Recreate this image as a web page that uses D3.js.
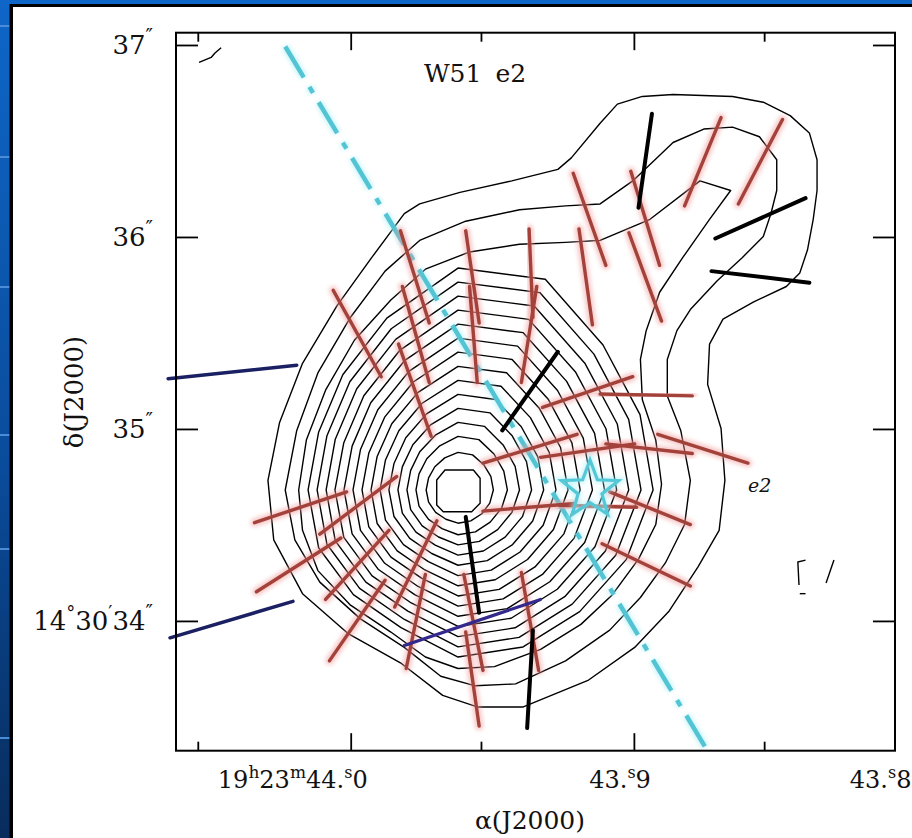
<!DOCTYPE html>
<html><head><meta charset="utf-8">
<script src="https://cdn.jsdelivr.net/npm/d3@7"></script>
<style>html,body{margin:0;padding:0;background:#fff;overflow:hidden}</style>
</head><body><svg id="c" width="912" height="838"></svg>
<script>
// ---------------- DATA (offsets in arcsec from the dust peak; +x = east) ----------------
const raRef = 43.9621;          // RA seconds of peak (19h23m)
const decRef = 34.682;          // Dec arcsec of peak (14°30')
const arcsecPerSecRA = 14.75;
const xExtent = [1.469, -2.276];
const yExtent = [2.382, -1.358];

const raMajorTicks = [44.0, 43.9, 43.808];
const raMinorTicks = [44.054, 43.954, 43.854];
const raTickLabels = [["19","h","23","m","44","s","0"], ["43","s","9"], ["43","s","8"]];
const decTicks = [37, 36, 35, 34];
const decTickLabels = ["37", "36", "35", "14°30′34"];

const contourOuter = [[0.28,1.44],[0.20,1.49],[-0.01,1.55],[-0.28,1.61],[-0.52,1.67],[-0.59,1.73],[-0.74,1.91],[-0.83,2.01],[-0.96,2.05],[-1.12,2.06],[-1.43,2.05],[-1.59,2.02],[-1.73,1.95],[-1.83,1.86],[-1.87,1.72],[-1.87,1.56],[-1.85,1.41],[-1.82,1.25],[-1.78,1.13],[-1.71,1.06],[-1.54,0.98],[-1.38,0.89],[-1.31,0.76],[-1.30,0.55],[-1.37,0.32],[-1.39,0.05],[-1.36,-0.21],[-1.25,-0.40],[-1.10,-0.63],[-0.92,-0.82],[-0.68,-0.99],[-0.34,-1.13],[-0.10,-1.13],[0.08,-1.07],[0.30,-0.90],[0.57,-0.75],[0.81,-0.54],[0.96,-0.26],[0.99,0.05],[0.93,0.35],[0.81,0.66],[0.63,0.96],[0.45,1.21]];
const contour2 = [[-0.74,1.49],[-0.91,1.61],[-1.12,1.81],[-1.28,1.88],[-1.43,1.89],[-1.57,1.84],[-1.66,1.72],[-1.66,1.56],[-1.63,1.44],[-1.59,1.32],[-1.48,1.21],[-1.35,1.09],[-1.21,0.94],[-1.14,0.83],[-1.09,0.68],[-1.09,0.49],[-1.16,0.31],[-1.21,0.05],[-1.18,-0.18],[-1.08,-0.38],[-0.95,-0.56],[-0.79,-0.73],[-0.56,-0.89],[-0.30,-1.01],[-0.09,-1.02],[0.09,-0.97],[0.28,-0.82],[0.51,-0.67],[0.72,-0.48],[0.85,-0.26],[0.90,0],[0.84,0.31],[0.73,0.61],[0.56,0.90],[0.38,1.14],[0.20,1.30],[-0.04,1.40],[-0.32,1.46],[-0.56,1.48]];
const contour3 = [[-0.74,1.30],[-1.00,1.41],[-1.26,1.61],[-1.42,1.56],[-1.31,1.41],[-1.17,1.21],[-1.05,1.03],[-0.98,0.83],[-0.95,0.68],[-0.96,0.47],[-1.03,0.26],[-1.06,0.03],[-1.03,-0.18],[-0.94,-0.36],[-0.80,-0.55],[-0.64,-0.70],[-0.43,-0.83],[-0.19,-0.92],[0,-0.93],[0.17,-0.87],[0.35,-0.74],[0.56,-0.60],[0.73,-0.42],[0.81,-0.21],[0.83,0],[0.79,0.26],[0.69,0.52],[0.54,0.78],[0.35,0.99],[0.17,1.15],[-0.06,1.24],[-0.32,1.28],[-0.56,1.29]];
// inner contours: radius (arcsec) from the peak at angles 0,22.5,...,337.5 deg (0 = west, 90 = north)
const innerContourRadii = [
 [1.016,1.026,1.068,1.188,1.156,0.969,0.849,0.786,0.781,0.786,0.771,0.776,0.870,0.885,0.896,0.948],
 [0.953,0.962,1.001,1.113,1.083,0.909,0.797,0.739,0.734,0.739,0.725,0.730,0.817,0.831,0.841,0.889],
 [0.889,0.898,0.934,1.037,1.010,0.849,0.746,0.692,0.687,0.692,0.679,0.683,0.764,0.777,0.786,0.831],
 [0.826,0.834,0.867,0.962,0.937,0.789,0.694,0.644,0.641,0.644,0.633,0.637,0.711,0.723,0.731,0.772],
 [0.763,0.770,0.800,0.887,0.864,0.729,0.643,0.597,0.594,0.597,0.586,0.590,0.658,0.669,0.676,0.714],
 [0.700,0.706,0.733,0.811,0.791,0.669,0.591,0.550,0.547,0.550,0.540,0.544,0.605,0.614,0.622,0.655],
 [0.636,0.642,0.666,0.736,0.718,0.609,0.539,0.503,0.500,0.503,0.494,0.497,0.552,0.560,0.567,0.597],
 [0.573,0.578,0.600,0.661,0.644,0.549,0.488,0.456,0.453,0.456,0.448,0.451,0.499,0.506,0.512,0.538],
 [0.510,0.514,0.533,0.585,0.571,0.489,0.436,0.409,0.406,0.409,0.402,0.404,0.446,0.452,0.457,0.480],
 [0.446,0.450,0.466,0.510,0.498,0.429,0.385,0.361,0.360,0.361,0.356,0.358,0.392,0.398,0.402,0.421],
 [0.383,0.386,0.399,0.435,0.425,0.369,0.333,0.314,0.313,0.314,0.310,0.311,0.339,0.344,0.347,0.363],
 [0.320,0.322,0.332,0.359,0.352,0.309,0.282,0.267,0.266,0.267,0.264,0.265,0.286,0.290,0.292,0.304],
 [0.257,0.258,0.265,0.284,0.279,0.249,0.230,0.220,0.219,0.220,0.217,0.218,0.233,0.236,0.237,0.246],
 [0.184,0.185,0.188,0.198,0.196,0.181,0.171,0.166,0.166,0.166,0.165,0.165,0.173,0.174,0.175,0.179]
];
const radiusAngles = [0,22.5,45,67.5,90,112.5,135,157.5,180,202.5,225,247.5,270,292.5,315,337.5];
const peakContour = [[0.111,0.052],[0.068,0.104],[-0.080,0.104],[-0.115,0.061],[-0.115,-0.069],[-0.071,-0.113],[0.077,-0.113],[0.111,-0.078]];
const fragments = [
  [[1.349,2.227],[1.286,2.253],[1.266,2.276],[1.234,2.304]],
  [[-1.81,-0.365],[-1.77,-0.375],[-1.776,-0.495]],
  [[-1.78,-0.54],[-1.81,-0.54]],
  [[-1.958,-0.365],[-1.917,-0.484]]
];

// polarization segments [x1,y1,x2,y2] (arcsec)
const redVectors = [
 [0.65,1.04,0.40,0.59],[0.29,1.06,0.15,0.56],[0.31,0.76,0.14,0.28],[0.30,1.35,0.15,0.87],
 [-0.04,1.35,-0.11,0.87],[-0.06,1.06,-0.10,0.56],[-0.37,1.36,-0.39,0.90],[-0.41,1.06,-0.33,0.56],
 [-0.63,1.36,-0.70,0.86],[-0.60,1.65,-0.77,1.17],[-0.90,1.66,-1.05,1.17],[-0.89,1.34,-1.06,0.88],
 [-1.37,1.94,-1.18,1.48],[-1.69,1.93,-1.46,1.49],[-0.44,0.43,-0.91,0.59],[-0.74,0.50,-1.22,0.49],
 [-0.13,0.14,-0.62,0.29],[-0.43,0.17,-0.92,0.24],[-0.77,0.24,-1.22,0.19],[-1.04,0.29,-1.51,0.14],
 [-0.13,-0.11,-0.61,-0.07],[-0.79,-0.01,-1.21,-0.18],[-0.53,-0.08,-0.93,-0.09],[-0.75,-0.28,-1.21,-0.50],
 [1.06,-0.17,0.58,-0.01],[0.72,-0.23,0.32,0.07],[1.05,-0.53,0.61,-0.25],[0.69,-0.57,0.36,-0.21],
 [0.67,-0.89,0.38,-0.47],[0.33,-0.61,0.11,-0.16],[0.27,-0.93,0.17,-0.44],[-0.03,-0.44,-0.13,-0.94],
 [-0.04,-0.74,-0.11,-1.23],[-0.33,-0.43,-0.42,-0.94]
];
const blackVectors = [
 [-1.01,1.96,-0.94,1.47],[-1.81,1.52,-1.34,1.31],[-1.32,1.14,-1.83,1.08],
 [-0.52,0.72,-0.23,0.31],[-0.04,-0.14,-0.11,-0.64],[-0.39,-0.73,-0.36,-1.24]
];
const navyVectors = [[1.51,0.58,0.84,0.65],[1.50,-0.77,0.86,-0.58]];
const purpleVectors = [[0.28,-0.81,-0.43,-0.57]];
const outflowAxis = [[0.90,2.31],[-1.30,-1.36]];
const starPos = [-0.6875, 0.0];
const starRadius = 0.156;
const sourceLabel = {text:"e2", x:-1.51, y:0.03};

// ---------------- DRAWING ----------------
const W = 912, H = 838;
const svg = d3.select("#c");
const defs = svg.append("defs");
const grad = defs.append("linearGradient").attr("id","bg").attr("x1",0).attr("y1",0).attr("x2",0).attr("y2",1);
grad.append("stop").attr("offset","0%").attr("stop-color","#0e66c8");
grad.append("stop").attr("offset","55%").attr("stop-color","#0a4c9c");
grad.append("stop").attr("offset","100%").attr("stop-color","#082c5c");
defs.append("filter").attr("id","blur").attr("x","-50%").attr("y","-50%").attr("width","200%").attr("height","200%")
  .append("feGaussianBlur").attr("stdDeviation",2);

svg.append("rect").attr("width",W).attr("height",H).attr("fill","url(#bg)");
[26,157,287,435,549,738].forEach(y=>svg.append("line").attr("x1",0).attr("x2",10).attr("y1",y).attr("y2",y)
  .attr("stroke","#4a8cd8").attr("stroke-width",2));
svg.append("rect").attr("x",9.5).attr("y",4).attr("width",W).attr("height",H).attr("fill","#000");
svg.append("rect").attr("x",13).attr("y",7).attr("width",W).attr("height",H).attr("fill","#fff");

const x = d3.scaleLinear().domain(xExtent).range([176,895]);
const y = d3.scaleLinear().domain(yExtent).range([32.7,750.7]);
const raToOff = ra => (ra - raRef) * arcsecPerSecRA;
const decToOff = d => d - decRef;

const line = d3.line().x(d=>x(d[0])).y(d=>y(d[1]));
const closed = d3.line().x(d=>x(d[0])).y(d=>y(d[1])).curve(d3.curveLinearClosed);

// contours
const cg = svg.append("g").attr("fill","none").attr("stroke","#000").attr("stroke-width",1.4).attr("stroke-linejoin","round");
[contourOuter, contour2, contour3].forEach(c=>cg.append("path").attr("d",closed(c)));
innerContourRadii.forEach(radii=>{
  const pts = radii.map((r,i)=>{const a = radiusAngles[i]*Math.PI/180; return [-r*Math.cos(a), r*Math.sin(a)];});
  cg.append("path").attr("d",closed(pts));
});
cg.append("path").attr("d",closed(peakContour));
fragments.forEach(fr=>cg.append("path").attr("d",line(fr)));

// outflow axis (dash-dot, cyan)
const dash = "36 11 7 11";
const ax = svg.append("g").attr("fill","none");
ax.append("path").attr("d",line(outflowAxis)).attr("stroke","#a6eef6").attr("stroke-width",8).attr("opacity",0.6)
  .attr("stroke-dasharray",dash).attr("filter","url(#blur)");
ax.append("path").attr("d",line(outflowAxis)).attr("stroke","#52c4d4").attr("stroke-width",4.5).attr("stroke-dasharray",dash);

function drawVectors(data, color, width, halo){
  const g = svg.append("g").attr("stroke-linecap","round");
  if(halo){
    g.selectAll(".h").data(data).join("line").attr("x1",d=>x(d[0])).attr("y1",d=>y(d[1])).attr("x2",d=>x(d[2])).attr("y2",d=>y(d[3]))
      .attr("stroke",halo).attr("stroke-width",width+5).attr("opacity",0.55).attr("filter","url(#blur)");
  }
  g.selectAll(".v").data(data).join("line").attr("x1",d=>x(d[0])).attr("y1",d=>y(d[1])).attr("x2",d=>x(d[2])).attr("y2",d=>y(d[3]))
    .attr("stroke",color).attr("stroke-width",width);
}
drawVectors(redVectors, "#a2423a", 3.4, "#f29a9a");
drawVectors(blackVectors, "#000", 4, null);
drawVectors(navyVectors, "#1a2062", 3.5, null);
drawVectors(purpleVectors, "#33288c", 3.2, null);

// star
const starPts = d3.range(10).map(i=>{const a = -Math.PI/2 + i*Math.PI/5; const r = i%2? starRadius*0.42 : starRadius; return [starPos[0]-r*Math.cos(a), starPos[1]-r*Math.sin(a)];});
svg.append("path").attr("d",closed(starPts)).attr("fill","none").attr("stroke","#a6eef6").attr("stroke-width",7).attr("opacity",0.6).attr("filter","url(#blur)");
svg.append("path").attr("d",closed(starPts)).attr("fill","none").attr("stroke","#55c8d8").attr("stroke-width",3.2).attr("stroke-linejoin","miter");

// frame
svg.append("rect").attr("x",176).attr("y",32.7).attr("width",719).attr("height",718).attr("fill","none").attr("stroke","#000").attr("stroke-width",2);
const tickStyle = g=>{g.select(".domain").remove(); g.selectAll("line").attr("stroke","#000").attr("stroke-width",1.8);};
const majX = raMajorTicks.map(raToOff), minX = raMinorTicks.map(raToOff), majY = decTicks.map(decToOff);
svg.append("g").attr("transform","translate(0,750.7)").call(d3.axisBottom(x).tickValues(majX).tickSize(-17.5).tickFormat("")).call(tickStyle);
svg.append("g").attr("transform","translate(0,750.7)").call(d3.axisBottom(x).tickValues(minX).tickSize(-9).tickFormat("")).call(tickStyle);
svg.append("g").attr("transform","translate(0,32.7)").call(d3.axisTop(x).tickValues(majX).tickSize(-17.5).tickFormat("")).call(tickStyle);
svg.append("g").attr("transform","translate(0,32.7)").call(d3.axisTop(x).tickValues(minX).tickSize(-9).tickFormat("")).call(tickStyle);
svg.append("g").attr("transform","translate(176,0)").call(d3.axisLeft(y).tickValues(majY).tickSize(-22).tickFormat("")).call(tickStyle);
svg.append("g").attr("transform","translate(895,0)").call(d3.axisRight(y).tickValues(majY).tickSize(-22).tickFormat("")).call(tickStyle);

const font = "'DejaVu Serif', serif";
// RA labels
raTickLabels.forEach((parts,i)=>{
  const t = svg.append("text").attr("x", x(majX[i]) + 17).attr("y",788).attr("text-anchor","end")
    .attr("font-family",font).attr("font-size",24).attr("fill","#111");
  let rest = parts;
  if(parts.length===7){
    t.append("tspan").text(parts[0]);
    t.append("tspan").attr("font-size",17).attr("dy",-10).text(parts[1]);
    t.append("tspan").attr("dy",10).text(parts[2]);
    t.append("tspan").attr("font-size",17).attr("dy",-10).text(parts[3]);
    rest = parts.slice(4);
    t.append("tspan").attr("dy",10).text(rest[0]);
  } else {
    t.append("tspan").text(rest[0]);
  }
  t.append("tspan").text(".");
  t.append("tspan").attr("font-size",16).attr("dy",-10).text(rest[1]);
  t.append("tspan").attr("dy",10).text(rest[2]);
});
// Dec labels
decTickLabels.forEach((lab,i)=>{
  const t = svg.append("text").attr("x",153).attr("y",y(majY[i])+9).attr("text-anchor","end")
    .attr("font-family",font).attr("font-size",26).attr("fill","#111");
  if(lab.length>3){
    t.append("tspan").text("14");
    t.append("tspan").attr("font-size",18).attr("dy",-11).text("°");
    t.append("tspan").attr("dy",11).text("30");
    t.append("tspan").attr("font-size",18).attr("dy",-11).text("′");
    t.append("tspan").attr("dy",11).text("34");
  } else t.append("tspan").text(lab);
  t.append("tspan").attr("font-size",20).attr("dy",-11).text("″");
});
svg.append("text").attr("x",530).attr("y",829).attr("text-anchor","middle").attr("font-family",font).attr("font-size",25).attr("fill","#111").text("α(J2000)");
svg.append("text").attr("transform","translate(83,392) rotate(-90)").attr("text-anchor","middle").attr("font-family",font).attr("font-size",26).attr("fill","#111").text("δ(J2000)");
svg.append("text").attr("x",475).attr("y",82).attr("text-anchor","middle").attr("font-family",font).attr("font-size",25).attr("word-spacing",6).attr("fill","#111").text("W51 e2");
svg.append("text").attr("x",x(sourceLabel.x)).attr("y",y(sourceLabel.y)+8).attr("font-family",font).attr("font-style","italic").attr("font-size",19).attr("fill","#111").text(sourceLabel.text);
</script></body></html>
